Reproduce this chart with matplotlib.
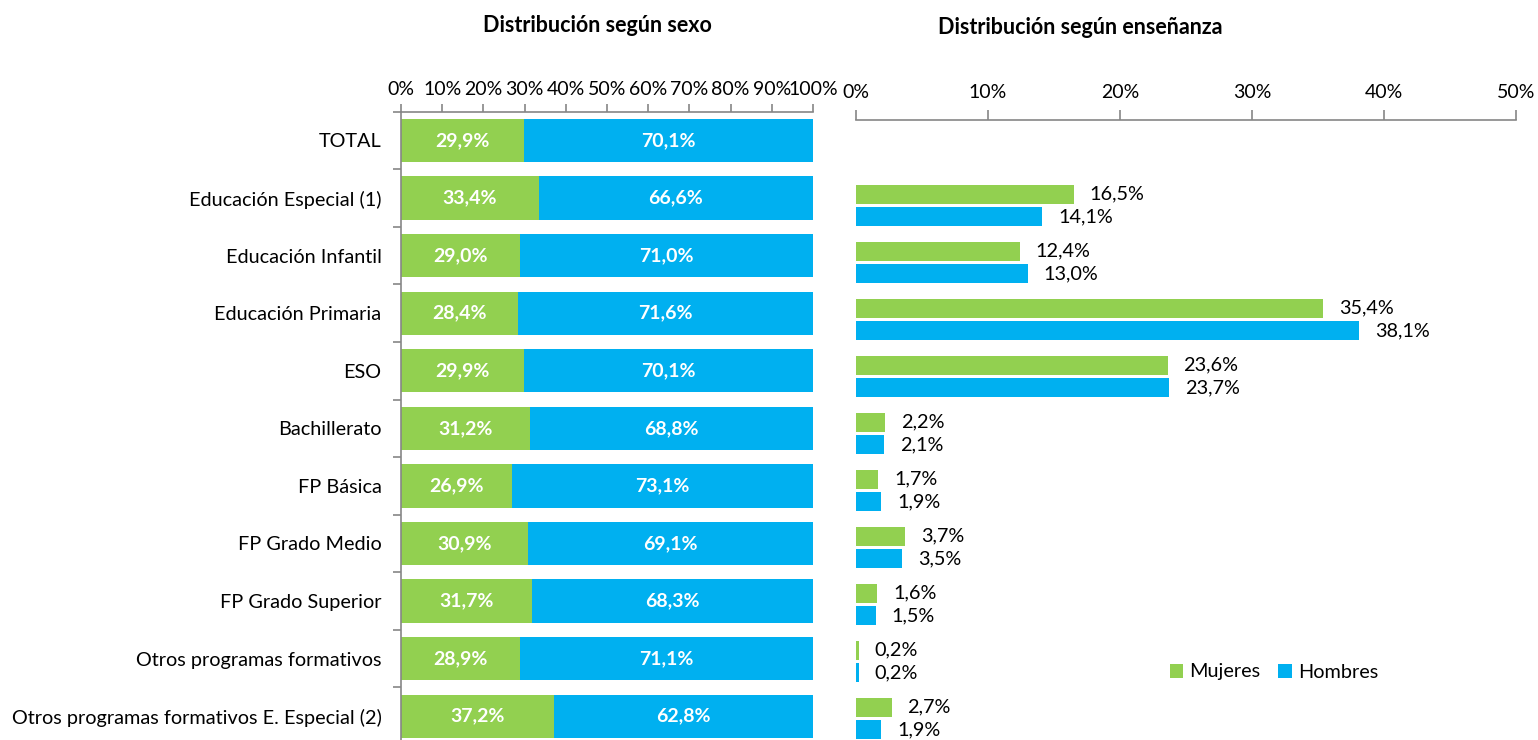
import matplotlib
matplotlib.use("Agg")
import matplotlib.pyplot as plt
import numpy as np

plt.rcParams['font.family'] = ['Lato', 'DejaVu Sans']

categorias = ['TOTAL', 'Educación Especial (1)', 'Educación Infantil', 'Educación Primaria',
              'ESO', 'Bachillerato', 'FP Básica', 'FP Grado Medio', 'FP Grado Superior',
              'Otros programas formativos', 'Otros programas formativos E. Especial (2)']
sexo_mujeres = [29.9, 33.4, 29.0, 28.4, 29.9, 31.2, 26.9, 30.9, 31.7, 28.9, 37.2]
sexo_hombres = [70.1, 66.6, 71.0, 71.6, 70.1, 68.8, 73.1, 69.1, 68.3, 71.1, 62.8]
ens_mujeres = [16.5, 12.4, 35.4, 23.6, 2.2, 1.7, 3.7, 1.6, 0.2, 2.7]
ens_hombres = [14.1, 13.0, 38.1, 23.7, 2.1, 1.9, 3.5, 1.5, 0.2, 1.9]

VERDE = '#92D050'
AZUL = '#00B0F0'
GRIS = '#868686'
W, H = 1538, 740


def fmt(v):
    return f"{v:.1f}".replace('.', ',') + '%'


fig = plt.figure(figsize=(W / 100, H / 100), dpi=100)

# --- izquierda: distribucion segun sexo ---
ax1 = fig.add_axes([401 / W, (H - 745) / H, (813 - 401) / W, (745 - 111.7) / H])
y = np.arange(len(categorias))
ax1.barh(y, sexo_mujeres, height=0.75, color=VERDE)
ax1.barh(y, sexo_hombres, left=sexo_mujeres, height=0.75, color=AZUL)
for i in range(len(categorias)):
    ax1.text(sexo_mujeres[i] / 2, i, fmt(sexo_mujeres[i]), ha='center', va='center',
             color='white', fontsize=14, fontweight='bold')
    ax1.text(sexo_mujeres[i] + sexo_hombres[i] / 2, i, fmt(sexo_hombres[i]), ha='center',
             va='center', color='white', fontsize=14, fontweight='bold')
ax1.set_xlim(0, 100)
ax1.set_ylim(10.5, -0.5)
ax1.set_xticks(np.arange(0, 101, 10))
ax1.set_xticklabels([f"{t}%" for t in range(0, 101, 10)])
ax1.xaxis.tick_top()
ax1.set_yticks(y)
ax1.set_yticklabels(categorias)
ax1.set_yticks(np.arange(-0.5, 10.6, 1), minor=True)
ax1.tick_params(axis='y', which='major', length=0, pad=14, labelsize=14.3)
ax1.tick_params(axis='y', which='minor', length=6, color=GRIS, width=1.2)
ax1.tick_params(axis='x', length=6, color=GRIS, width=1.2, labelsize=14, pad=4)
for s in ['right', 'bottom']:
    ax1.spines[s].set_visible(False)
for s in ['left', 'top']:
    ax1.spines[s].set_color(GRIS)
    ax1.spines[s].set_linewidth(1.2)
fig.text(597 / W, 1 - 25 / H, 'Distribución según sexo', ha='center', va='center',
         fontsize=15.5, fontweight='bold')

# --- derecha: distribucion segun ensenanza ---
ax2 = fig.add_axes([856 / W, (H - 747) / H, 660 / W, (747 - 120) / H])
y2 = np.arange(1, len(categorias))
ax2.barh(y2 - 0.2, ens_mujeres, height=0.33, color=VERDE, label='Mujeres')
ax2.barh(y2 + 0.2, ens_hombres, height=0.33, color=AZUL, label='Hombres')
for i in range(len(ens_mujeres)):
    ax2.text(ens_mujeres[i] + 1.2, y2[i] - 0.2, fmt(ens_mujeres[i]), ha='left',
             va='center', fontsize=14.3)
    ax2.text(ens_hombres[i] + 1.2, y2[i] + 0.2, fmt(ens_hombres[i]), ha='left',
             va='center', fontsize=14.3)
ax2.set_xlim(0, 50)
ax2.set_ylim(10.5, -0.5)
ax2.set_xticks(np.arange(0, 51, 10))
ax2.set_xticklabels([f"{t}%" for t in range(0, 51, 10)])
ax2.xaxis.tick_top()
ax2.set_yticks([])
ax2.tick_params(axis='x', length=7, color=GRIS, width=1.2, labelsize=14, pad=7)
for s in ['right', 'bottom', 'left']:
    ax2.spines[s].set_visible(False)
ax2.spines['top'].set_color(GRIS)
ax2.spines['top'].set_linewidth(1.2)
ax2.legend(loc='center', bbox_to_anchor=(1274 / W, 1 - 672 / H),
           bbox_transform=fig.transFigure, ncol=2, frameon=False, fontsize=14.3,
           handlelength=0.7, handleheight=0.7, handletextpad=0.3, columnspacing=0.9)
fig.text(1080 / W, 1 - 28 / H, 'Distribución según enseñanza', ha='center', va='center',
         fontsize=15.5, fontweight='bold')

fig.savefig('out.png', dpi=100)
